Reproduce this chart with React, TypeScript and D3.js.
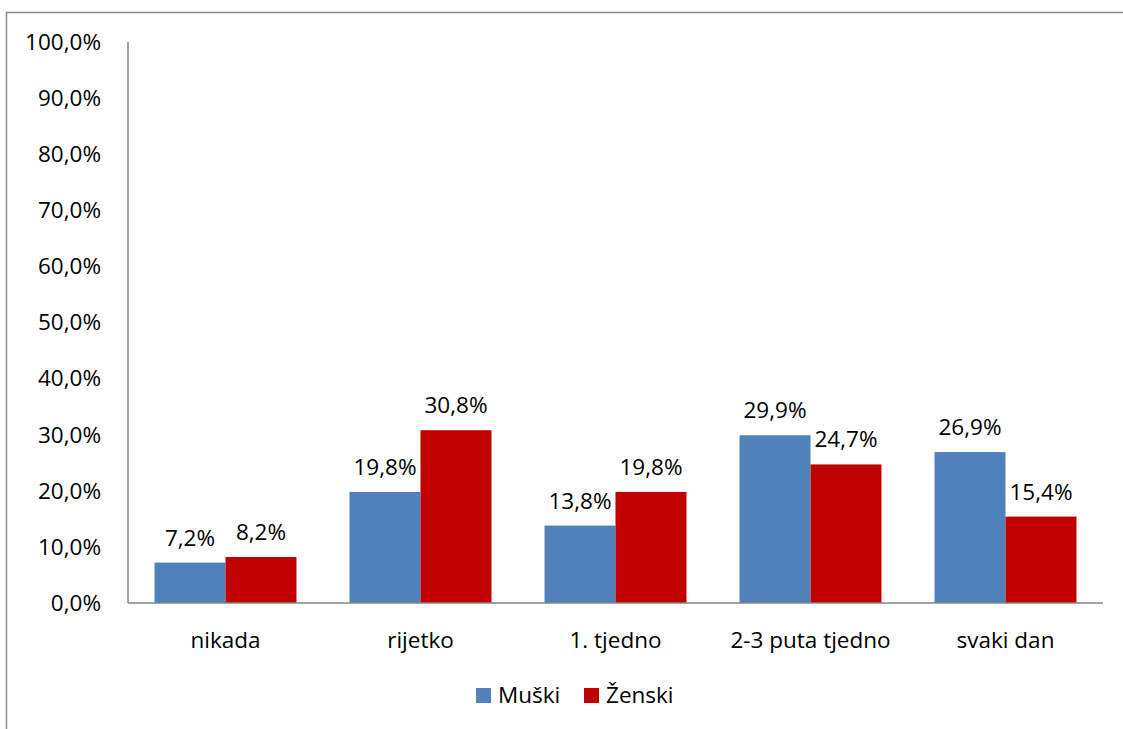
import React from "react";
import * as d3 from "d3";

const categories = ["nikada", "rijetko", "1. tjedno", "2-3 puta tjedno", "svaki dan"];
const seriesNames = ["Muški", "Ženski"];
const muski = [7.2, 19.8, 13.8, 29.9, 26.9];
const zenski = [8.2, 30.8, 19.8, 24.7, 15.4];
const yTicks = [0, 10, 20, 30, 40, 50, 60, 70, 80, 90, 100];
const colors = ["#4F81BD", "#C00000"];

const W = 1123;
const H = 729;
const plot = { left: 128, right: 1103, top: 42, bottom: 603 };
const font = "'Open Sans', 'Noto Sans', sans-serif";
const fs = 22.5;
const fmt = (v: number) => v.toFixed(1).replace(".", ",") + "%";

export default function App() {
  const x = d3.scaleBand<string>().domain(categories).range([plot.left, plot.right]).paddingInner(0.272).paddingOuter(0.136);
  const inner = d3.scaleBand<string>().domain(seriesNames).range([0, x.bandwidth()]).padding(0);
  const y = d3.scaleLinear().domain([0, 100]).range([plot.bottom, plot.top]);
  const series = [muski, zenski];

  return (
    <svg width={W} height={H} style={{ position: "absolute", left: 0, top: 0, background: "#fff" }}>
      <rect x={6.5} y={12.5} width={1300} height={900} fill="none" stroke="#8a8a8a" strokeWidth={1.5} />
      {yTicks.map((t) => (
        <text key={t} x={101} y={y(t)} dy="0.35em" textAnchor="end" fontFamily={font} fontSize={fs} fill="#000">
          {fmt(t)}
        </text>
      ))}
      {categories.map((c, i) =>
        series.map((s, k) => {
          const bx = (x(c) as number) + (inner(seriesNames[k]) as number);
          const bw = inner.bandwidth();
          return (
            <g key={c + k}>
              <rect x={bx} y={y(s[i])} width={bw} height={plot.bottom - y(s[i])} fill={colors[k]} />
              <text x={bx + bw / 2} y={y(s[i]) - 17} textAnchor="middle" fontFamily={font} fontSize={fs} fill="#000">
                {fmt(s[i])}
              </text>
            </g>
          );
        })
      )}
      <line x1={plot.left} x2={plot.left} y1={plot.top} y2={plot.bottom} stroke="#868686" strokeWidth={1.5} />
      <line x1={plot.left} x2={plot.right} y1={plot.bottom} y2={plot.bottom} stroke="#868686" strokeWidth={1.5} />
      {categories.map((c) => (
        <text key={c} x={(x(c) as number) + x.bandwidth() / 2} y={648} textAnchor="middle" fontFamily={font} fontSize={fs} fill="#000">
          {c}
        </text>
      ))}
      {seriesNames.map((n, k) => {
        const lx = [476, 584][k];
        return (
          <g key={n}>
            <rect x={lx} y={688} width={15} height={15} fill={colors[k]} />
            <text x={lx + 22} y={703} fontFamily={font} fontSize={fs} fill="#000">
              {n}
            </text>
          </g>
        );
      })}
    </svg>
  );
}
